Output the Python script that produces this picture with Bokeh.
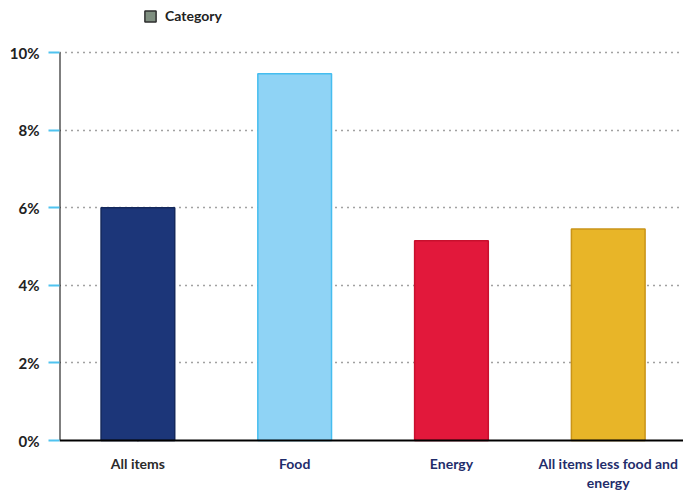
from bokeh.plotting import figure
from bokeh.models import ColumnDataSource, Range1d, FixedTicker, Legend, LegendItem
from bokeh.core.properties import value
from bokeh.embed import file_html
from bokeh.resources import INLINE

categories = ["All items", "Food", "Energy", "All items less food and\nenergy"]
values = [6.0, 9.45, 5.15, 5.45]
y_ticks = [0, 2, 4, 6, 8, 10]
y_tick_labels = ["0%", "2%", "4%", "6%", "8%", "10%"]
legend_label = "Category"

fills = ["#1c3679", "#8fd3f5", "#e2183b", "#e8b528"]
outlines = ["#14285c", "#45bdef", "#c8102e", "#c99418"]
label_colors = ["#2b2b2b", "#1f2d6b", "#1f2d6b", "#1f2d6b"]

FONT = "Lato"

W, H = 683, 493
LEFT = 59
TOP_PX, BOTTOM_PX = 52, 440   # canvas y of 10% and 0%
ppu = (BOTTOM_PX - TOP_PX) / (y_ticks[-1] - y_ticks[0])
y_start = y_ticks[0] - (H - BOTTOM_PX) / ppu
y_end = y_ticks[-1] + TOP_PX / ppu
x_end = 3.98

xs = [i + 0.5 for i in range(len(categories))]
src = ColumnDataSource(dict(x=xs, top=values, fill=fills, line=outlines))
lab_src = ColumnDataSource(dict(x=xs, y=[y_ticks[0]] * len(xs), text=categories,
                                color=label_colors))

p = figure(width=W, height=H, output_backend="svg", toolbar_location=None,
           x_range=Range1d(0, x_end), y_range=Range1d(y_start, y_end),
           min_border_left=LEFT, min_border_right=0, min_border_top=0,
           min_border_bottom=0)
p.outline_line_color = None
p.background_fill_color = "white"
p.border_fill_color = "white"

# grid
p.xgrid.grid_line_color = None
p.ygrid.ticker = FixedTicker(ticks=y_ticks[1:])
p.ygrid.grid_line_color = "#444444"
p.ygrid.grid_line_dash = "1 5"
p.ygrid.grid_line_width = 1.5

# legend proxy: zero-height bar (invisible), only its visuals are used by the legend
proxy = p.vbar(x=[xs[0]], top=[y_ticks[0]], bottom=y_ticks[0], width=0.01,
               fill_color="#7f8f80", line_color="#2f2f2f", line_width=1.5)

p.vbar(x="x", top="top", width=0.47, bottom=0, source=src,
       fill_color="fill", line_color="line", line_width=1.5)

# axis lines drawn within the data area
p.segment(x0=[0], y0=[y_ticks[0]], x1=[0], y1=[y_ticks[-1]], line_color="black",
          line_width=2)
p.segment(x0=[0], y0=[y_ticks[0]], x1=[x_end], y1=[y_ticks[0]], line_color="black",
          line_width=2)

# category labels
p.text(x="x", y="y", text="text", source=lab_src, text_color="color",
       text_align="center", text_baseline="top", y_offset=14,
       text_font=value(FONT), text_font_style="bold", text_font_size="14px",
       text_line_height=1.15)

legend = Legend(items=[LegendItem(label=legend_label, renderers=[proxy])],
                location=(84, H - 10 - 14), padding=0, margin=0, border_line_color=None,
                background_fill_alpha=0, glyph_width=14, glyph_height=14,
                label_standoff=8, label_text_font=FONT, label_text_font_style="bold",
                label_text_font_size="14px", label_text_color="#222222",
                label_height=14)
p.add_layout(legend, "center")

# y axis
p.yaxis.ticker = FixedTicker(ticks=y_ticks)
p.yaxis.major_label_overrides = {t: l for t, l in zip(y_ticks, y_tick_labels)}
p.yaxis.axis_line_color = None
p.yaxis.major_tick_line_color = "#4fc3f0"
p.yaxis.major_tick_line_width = 2
p.yaxis.major_tick_out = 11
p.yaxis.major_tick_in = 0
p.yaxis.minor_tick_line_color = None
p.yaxis.major_label_standoff = 9
p.yaxis.major_label_text_font = FONT
p.yaxis.major_label_text_font_style = "bold"
p.yaxis.major_label_text_font_size = "15px"
p.yaxis.major_label_text_color = "#222222"

p.xaxis.visible = False

open("out.html", "w").write(file_html(p, INLINE))
